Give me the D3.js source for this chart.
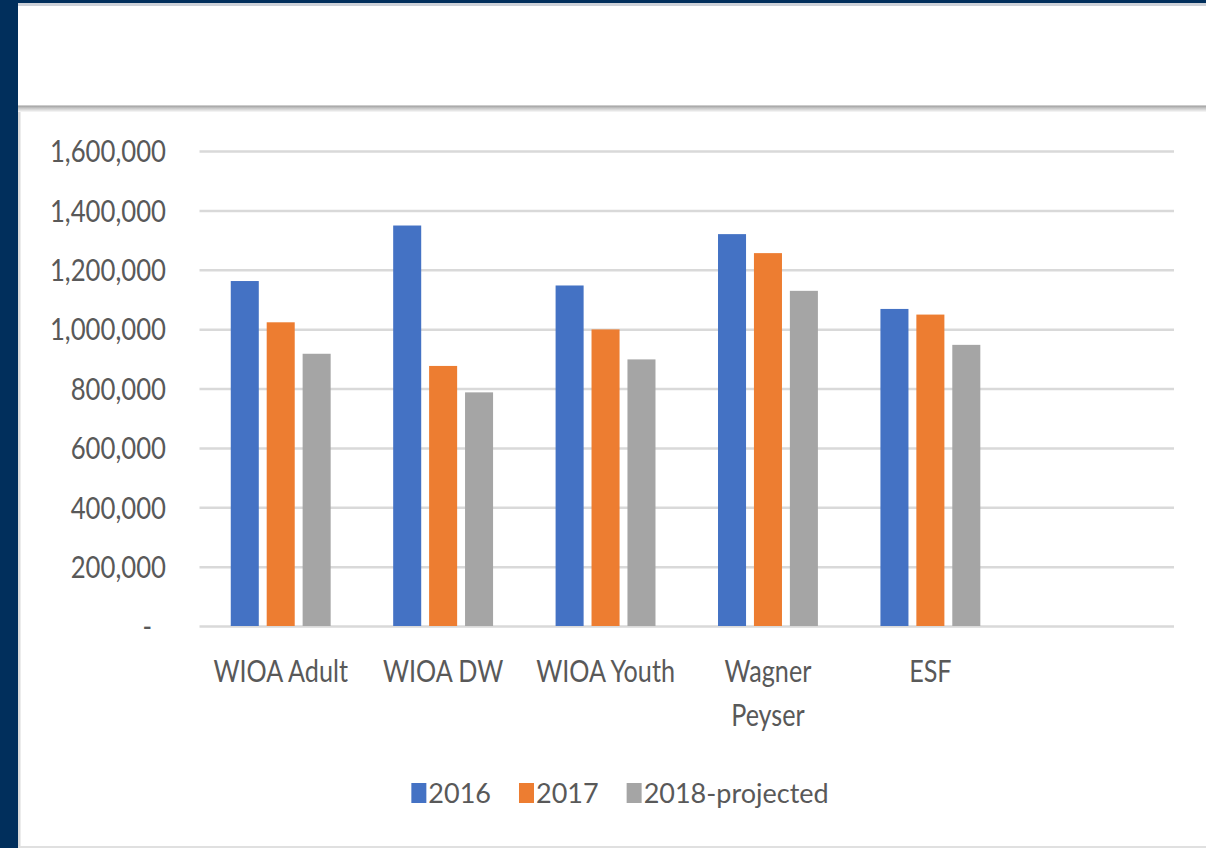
<!DOCTYPE html>
<html>
<head>
<meta charset="utf-8">
<script src="https://cdn.jsdelivr.net/npm/d3@7/dist/d3.min.js"></script>
<style>
  html, body { margin: 0; padding: 0; background: #012f5c; }
  svg { display: block; }
</style>
</head>
<body>
<svg id="chart" width="1206" height="848"></svg>
<script>

// data
var categories = ["WIOA Adult", "WIOA DW", "WIOA Youth", "Wagner Peyser", "ESF"];
var series = ["2016", "2017", "2018-projected"];
var values2016 = [1162000, 1349000, 1147000, 1320000, 1068000];
var values2017 = [1023000, 876000, 999000, 1256000, 1049000];
var values2018 = [917000, 787000, 898000, 1129000, 947000];
var yTicks = [0, 200000, 400000, 600000, 800000, 1000000, 1200000, 1400000, 1600000];
var colors = ["#4472c4", "#ed7d31", "#a5a5a5"];

var rows = categories.map(function(c, i) {
  return { cat: c, vals: [values2016[i], values2017[i], values2018[i]] };
});

var W = 1206, H = 848;
var plotLeft = 199.5, plotRight = 1174, plotTop = 151, plotBottom = 626;
var font = "Lato, 'Open Sans', sans-serif";
var textColor = "#595959";
// the source picture is squeezed sideways, so text is too
var sxAxis = 0.83, sxCat = 0.84, sxLeg = 1.0;

var svg = d3.select("#chart");

// slide frame
var defs = svg.append("defs");
var grad = defs.append("linearGradient").attr("id", "shadow")
    .attr("x1", 0).attr("y1", 0).attr("x2", 0).attr("y2", 1);
grad.append("stop").attr("offset", "0").attr("stop-color", "#9a9a9a");
grad.append("stop").attr("offset", "0.35").attr("stop-color", "#c4c4c4");
grad.append("stop").attr("offset", "1").attr("stop-color", "#ffffff");

svg.append("rect").attr("x", 18).attr("y", 3).attr("width", W - 18).attr("height", H - 3).attr("fill", "#fff");
svg.append("rect").attr("x", 18).attr("y", 3).attr("width", W - 18).attr("height", 3).attr("fill", "#cdd1d8");
svg.append("rect").attr("x", 18).attr("y", 105.5).attr("width", W - 18).attr("height", 7).attr("fill", "url(#shadow)");
svg.append("rect").attr("x", 18).attr("y", 112).attr("width", 2.5).attr("height", H - 112).attr("fill", "#dadada");
svg.append("rect").attr("x", 18).attr("y", H - 2).attr("width", W - 18).attr("height", 2).attr("fill", "#e0e0e0");

// scales - the sheet has one empty row after ESF, so there's a blank 6th slot
var x0 = d3.scaleBand()
    .domain(categories.concat([""]))
    .range([plotLeft, plotRight])
    .paddingInner(0).paddingOuter(0);

var x1 = d3.scaleBand()
    .domain(series)
    .range([0, x0.bandwidth()])
    .paddingInner(0.22)
    .paddingOuter(0.87);

var y = d3.scaleLinear()
    .domain([0, 1600000])
    .range([plotBottom, plotTop]);

// y axis + gridlines
var yAxis = d3.axisLeft(y)
    .tickValues(yTicks)
    .tickSize(-(plotRight - plotLeft))
    .tickFormat(function(d) { return d === 0 ? "-" : d3.format(",")(d); });

var gy = svg.append("g")
    .attr("transform", "translate(" + plotLeft + ",0)")
    .call(yAxis);
gy.select(".domain").remove();
gy.selectAll(".tick line").attr("stroke", "#d9d9d9").attr("stroke-width", 2.5);
gy.selectAll(".tick text")
    .attr("x", null)
    .attr("dy", "0.35em")
    .attr("fill", textColor)
    .style("font-family", font)
    .style("font-size", "31px")
    .attr("transform", function(d) {
      var off = d === 0 ? -47.5 : -33.5; // accounting format pads the dash
      return "translate(" + off + ",0) scale(" + sxAxis + ",1)";
    });

// bars
var groups = svg.append("g").selectAll("g")
    .data(rows)
    .join("g")
    .attr("transform", function(d) { return "translate(" + x0(d.cat) + ",0)"; });

groups.selectAll("rect")
    .data(function(d) { return d.vals.map(function(v, i) { return { key: series[i], value: v, i: i }; }); })
    .join("rect")
    .attr("x", function(d) { return x1(d.key); })
    .attr("width", x1.bandwidth())
    .attr("y", function(d) { return y(d.value); })
    .attr("height", function(d) { return plotBottom - y(d.value); })
    .attr("fill", function(d) { return colors[d.i]; });

// category labels
var xAxis = d3.axisBottom(x0).tickSize(0);
var gx = svg.append("g")
    .attr("transform", "translate(0," + plotBottom + ")")
    .call(xAxis);
gx.select(".domain").remove();
gx.selectAll(".tick text")
    .attr("fill", textColor)
    .style("font-family", font)
    .style("font-size", "30px")
    .attr("transform", "scale(" + sxCat + ",1)")
    .each(function(d) {
      var text = d3.select(this);
      var words = d.split(" ");
      var maxW = (x0.bandwidth() - 8) / sxCat;
      text.text(null).attr("y", null).attr("dy", null);
      var lines = [], line = [];
      var tspan = text.append("tspan");
      words.forEach(function(w) {
        line.push(w);
        tspan.text(line.join(" "));
        if (tspan.node().getComputedTextLength() > maxW && line.length > 1) {
          line.pop();
          lines.push(line.join(" "));
          line = [w];
        }
      });
      lines.push(line.join(" "));
      text.text(null);
      lines.forEach(function(l, i) {
        text.append("tspan").attr("x", 0).attr("y", 56 + i * 44).text(l);
      });
    });

// legend
var legend = svg.append("g");
var items = legend.selectAll("g")
    .data(series)
    .join("g");
items.append("rect")
    .attr("x", 0).attr("y", -10)
    .attr("width", 15 / sxLeg).attr("height", 20)
    .attr("fill", function(d, i) { return colors[i]; });
items.append("text")
    .attr("x", 17 / sxLeg)
    .attr("dy", "0.36em")
    .attr("fill", textColor)
    .style("font-family", font)
    .style("font-size", "27px")
    .text(function(d) { return d; });

var cursor = 0;
items.each(function() {
  var g = d3.select(this);
  g.attr("transform", "translate(" + cursor + ",0)");
  var tw = g.select("text").node().getComputedTextLength();
  cursor += 17 / sxLeg + tw + 28 / sxLeg;
});
var legW = (cursor - 28 / sxLeg) * sxLeg;
legend.attr("transform", "translate(" + (620 - legW / 2) + ",793) scale(" + sxLeg + ",1)");

</script>
</body>
</html>
